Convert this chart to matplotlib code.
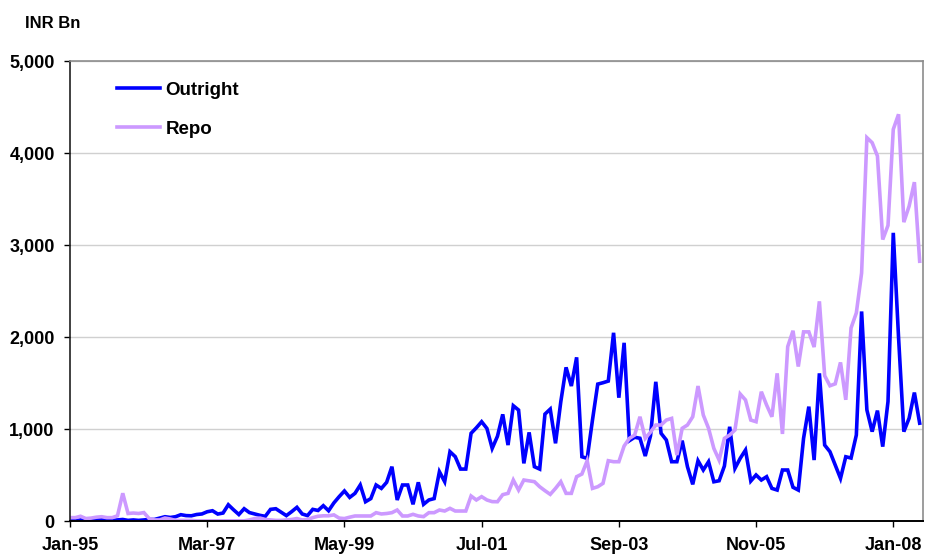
import matplotlib
matplotlib.use("Agg")
import matplotlib.pyplot as plt
import numpy as np
import pandas as pd
from matplotlib.ticker import FuncFormatter

# monthly volumes, INR Bn, Jan-95 .. Jun-08
outright = [
    10, 5, 15, 10, 5, 15, 20, 10, 10, 15, 20, 10, 15, 10, 15, 20,
    20, 35, 50, 42, 50, 72, 62, 60, 74, 80,
    104, 115, 79, 90, 180, 125, 74, 137, 95, 80, 65, 54, 130, 137,
    100, 62, 105, 152, 80, 62, 130, 118, 170, 115,
    200, 268, 330, 260, 304, 395, 213, 247, 395, 358,
    424, 594, 232, 395, 395, 185, 424, 185, 232, 247,
    539, 431, 757, 703, 568, 568, 957, 1017, 1083, 1010,
    793, 925, 1163, 829, 1257, 1210, 630, 967, 594, 568,
    1166, 1220, 848, 1300, 1674, 1471, 1783, 702, 684, 1100,
    1492, 1507, 1525, 2050, 1344, 1941, 877, 914, 903, 710,
    930, 1517, 957, 884, 648, 648, 877, 594, 402, 659,
    558, 648, 430, 441, 601, 1028, 576, 685, 775, 438,
    504, 449, 485, 358, 340, 558, 558, 370, 340, 902,
    1247, 666, 1609, 829, 757, 612, 467, 702, 688, 938,
    2282, 1211, 975, 1204, 812, 1302, 3137, 2000, 975, 1121,
    1400, 1067,
]
repo = [
    40, 40, 55, 30, 35, 45, 50, 40, 40, 60, 305, 85, 90, 85, 95, 30,
    15, 15, 35, 25, 10, 10, 10, 10, 5, 5,
    5, 5, 5, 5, 5, 5, 5, 5, 15, 30, 35, 20, 15, 10,
    10, 15, 20, 30, 15, 20, 40, 55, 60, 60,
    70, 35, 30, 45, 58, 58, 58, 58, 94, 80,
    85, 94, 123, 58, 58, 76, 58, 51, 94, 94,
    123, 112, 141, 112, 112, 112, 275, 232, 268, 232,
    214, 213, 290, 304, 449, 340, 449, 440, 431, 376,
    333, 293, 358, 431, 304, 304, 485, 514, 659, 358,
    376, 413, 659, 648, 648, 819, 902, 938, 1137, 902,
    970, 1047, 1047, 1101, 1119, 721, 1011, 1047, 1137, 1471,
    1156, 1011, 793, 666, 902, 938, 993, 1384, 1319, 1101,
    1083, 1409, 1264, 1137, 1609, 950, 1900, 2072, 1683, 2060,
    2060, 1895, 2392, 1583, 1474, 1495, 1728, 1321, 2102, 2266,
    2701, 4172, 4117, 3972, 3064, 3217, 4262, 4426, 3253, 3427,
    3688, 2828,
]
months = pd.date_range("1995-01-01", periods=len(outright), freq="MS")
tick_step = 26
y_ticks = [0, 1000, 2000, 3000, 4000, 5000]

FONT = "Liberation Sans"
plt.rcParams["font.family"] = FONT
plt.rcParams["font.weight"] = "bold"

fig = plt.figure(figsize=(9.27, 5.54), dpi=100)
ax = fig.add_axes([0.0755, 0.059, 0.92, 0.83])

x = np.arange(len(months))
ax.plot(x, outright, color="#0000FF", lw=2.6, label="Outright", solid_joinstyle="miter")
ax.plot(x, repo, color="#CC99FF", lw=2.6, label="Repo", solid_joinstyle="miter")

ax.set_xlim(0, len(months) - 0.4)
ax.set_ylim(0, 5000)

tick_pos = x[::tick_step]
ax.set_xticks(tick_pos)
ax.set_xticklabels([m.strftime("%b-%y") for m in months[::tick_step]])
ax.set_yticks(y_ticks)
ax.yaxis.set_major_formatter(FuncFormatter(lambda v, p: f"{int(v):,}"))

ax.grid(axis="y", color="#D0D0D0", lw=1.0)
ax.set_axisbelow(True)
for side in ["top", "right"]:
    ax.spines[side].set_color("#8C8C8C")
    ax.spines[side].set_linewidth(1.2)
ax.spines["left"].set_color("#202020")
ax.spines["bottom"].set_color("#000000")
ax.spines["left"].set_linewidth(1.2)
ax.spines["bottom"].set_linewidth(1.4)

ax.tick_params(axis="both", labelsize=13, length=4, width=1, direction="out")
ax.tick_params(axis="y", pad=7)
ax.tick_params(axis="x", pad=7)
for lbl in ax.get_xticklabels() + ax.get_yticklabels():
    lbl.set_fontweight("bold")

leg = ax.legend(
    loc="upper left",
    bbox_to_anchor=(0.055, 0.956),
    frameon=False,
    fontsize=13.5,
    handlelength=2.3,
    handletextpad=0.3,
    labelspacing=1.15,
    borderpad=0,
    borderaxespad=0,
)
for t in leg.get_texts():
    t.set_fontweight("bold")

fig.text(0.027, 0.958, "INR Bn", fontsize=12, fontweight="bold", va="center", ha="left")

fig.savefig("out.png", dpi=100)
